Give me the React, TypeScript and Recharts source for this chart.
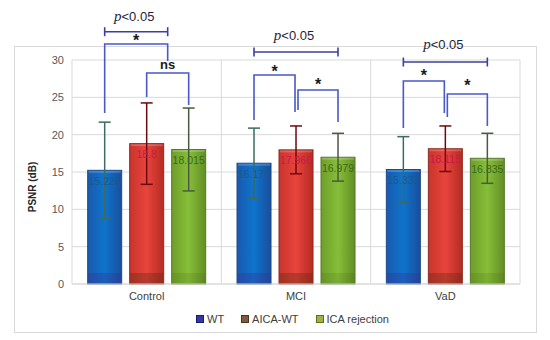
import React from 'react';
import { BarChart, Bar, XAxis, YAxis, CartesianGrid, ErrorBar, LabelList, Legend } from 'recharts';

const categories = ['Control', 'MCI', 'VaD'];
const seriesNames = ['WT', 'AICA-WT', 'ICA rejection'];
const wtValues = [15.226, 16.176, 15.333];
const aicaValues = [18.8, 17.966, 18.115];
const icaValues = [18.015, 16.979, 16.835];
const wtErrors = [6.45, 4.7, 4.4];
const aicaErrors = [5.45, 3.2, 3.05];
const icaErrors = [5.55, 3.2, 3.35];
const yTicks = [0, 5, 10, 15, 20, 25, 30];

// p<0.05 range lines per category (bar index 0=WT, 1=AICA-WT, 2=ICA rejection)
const rangeFrom = [0, 0, 0];
const rangeTo = [1.5, 2, 2];
const rangeLevel = [33.79, 31.07, 29.73];
const rangeLabelLevel = [35.9, 33.35, 32.14];
const rangeLabelText = ['<0.05', '<0.05', '<0.05'];

// significance brackets
const bracketCat = [0, 0, 1, 1, 2, 2];
const bracketFrom = [0, 1, 0, 1, 0, 1];
const bracketTo = [1.5, 2, 1, 2, 1, 2];
const bracketTop = [32.14, 28.26, 27.99, 25.98, 27.19, 25.45];
const bracketLeftEnd = [22.9, 25.04, 21.96, 23.3, 20.89, 22.37];
const bracketRightEnd = [29.87, 23.97, 23.04, 21.7, 22.9, 21.16];
const bracketText = ['*', 'ns', '*', '*', '*', '*'];
const bracketTextLevel = [33.08, 29.2, 28.84, 27.15, 28.3, 26.96];

const FONT = '"Liberation Sans", Arial, sans-serif';
const BAR_GAP = 8;

const data = categories.map((c, i) => ({
  category: c,
  wt: wtValues[i],
  aica: aicaValues[i],
  ica: icaValues[i],
  wtErr: wtErrors[i],
  aicaErr: aicaErrors[i],
  icaErr: icaErrors[i],
}));

const palette: Record<string, any> = {
  wt: { stops: ['#1A5AAE', '#0E74CC', '#1A4E9C'], stroke: '#1C4A8A', bottom: '#3A2A90', bottomOpacity: 0.3, label: '#1B5A86', err: '#3B6B62', legend: '#3535A5', legendStroke: '#1A1A70' },
  aica: { stops: ['#C8352C', '#E8443C', '#B52B23'], stroke: '#8E2A22', bottom: '#5A2A10', bottomOpacity: 0.35, label: '#C8194A', err: '#6A0A10', legend: '#7E5C3C', legendStroke: '#4A3420' },
  ica: { stops: ['#6E9E2A', '#86BE38', '#638E25'], stroke: '#56782A', bottom: '#3A5A10', bottomOpacity: 0.15, label: '#3A6A1A', err: '#4A5A40', legend: '#9DB443', legendStroke: '#5E7020' },
};

function renderAnnotations(props: any) {
  const { x, y, width, height, index } = props;
  const base = y + height;
  const ppu = height / aicaValues[index];
  const toY = (v: number) => base - v * ppu;
  const step = width + BAR_GAP;
  const cx = (k: number) => x + width / 2 + (k - 1) * step;
  const items: any[] = [];
  const rx1 = cx(rangeFrom[index]);
  const rx2 = cx(rangeTo[index]);
  const ry = toY(rangeLevel[index]);
  items.push(
    <g key="range">
      <line x1={rx1} y1={ry} x2={rx2} y2={ry} stroke="#3B3F9E" strokeWidth={1.6} />
      <line x1={rx1} y1={ry - 4.5} x2={rx1} y2={ry + 4.5} stroke="#3B3F9E" strokeWidth={1.6} />
      <line x1={rx2} y1={ry - 4.5} x2={rx2} y2={ry + 4.5} stroke="#3B3F9E" strokeWidth={1.6} />
      <text x={(rx1 + rx2) / 2 - 2} y={toY(rangeLabelLevel[index]) + 4.7} textAnchor="middle" fill="#1F1F3A">
        <tspan fontFamily='"Liberation Serif", "DejaVu Serif", serif' fontStyle="italic" fontSize={15}>p</tspan>
        <tspan fontFamily={FONT} fontSize={13}>{rangeLabelText[index]}</tspan>
      </text>
    </g>
  );
  bracketCat.forEach((c, b) => {
    if (c !== index) return;
    const nudgeL = bracketFrom[b] === 1 && bracketCat.some((cc, bb) => cc === c && bracketTo[bb] === 1) ? 2 : 0;
    const nudgeR = bracketTo[b] === 1 ? -1 : 0;
    const x1 = cx(bracketFrom[b]) + nudgeL;
    const x2 = cx(bracketTo[b]) + nudgeR;
    const yt = toY(bracketTop[b]);
    const isStar = bracketText[b] === '*';
    const fs = isStar ? 16 : 13;
    const ty = toY(bracketTextLevel[b]) + (isStar ? 0.55 * fs : 0.27 * fs);
    items.push(
      <g key={`br${b}`}>
        <path
          d={`M${x1},${toY(bracketLeftEnd[b])} V${yt} H${x2} V${toY(bracketRightEnd[b])}`}
          fill="none"
          stroke="#4A58C8"
          strokeWidth={1.6}
        />
        <text x={(x1 + x2) / 2} y={ty} textAnchor="middle" fontFamily={FONT} fontWeight="bold" fontSize={fs} fill="#1A1A1A">
          {bracketText[b]}
        </text>
      </g>
    );
  });
  return <g>{items}</g>;
}

function makeBarShape(key: string) {
  return (props: any) => {
    const { x, y, width, height } = props;
    if (width == null || height == null) return null;
    const pal = palette[key];
    const gid = `grad-${key}`;
    const band = Math.min(11, height);
    return (
      <g>
        <defs>
          <linearGradient id={gid} x1="0" y1="0" x2="1" y2="0">
            <stop offset="0%" stopColor={pal.stops[0]} />
            <stop offset="50%" stopColor={pal.stops[1]} />
            <stop offset="100%" stopColor={pal.stops[2]} />
          </linearGradient>
        </defs>
        <rect x={x} y={y} width={width} height={height} fill={`url(#${gid})`} stroke={pal.stroke} strokeWidth={1} />
        <rect x={x + 0.5} y={y + height - band} width={width - 1} height={band - 0.5} fill={pal.bottom} fillOpacity={pal.bottomOpacity} />
        <rect x={x + 1} y={y + 0.5} width={width - 2} height={2} fill="#ffffff" fillOpacity={0.2} />
        {key === 'aica' ? renderAnnotations(props) : null}
      </g>
    );
  };
}

const renderLegend = () => (
  <div style={{ display: 'flex', gap: 17, fontFamily: FONT, fontSize: 11, color: '#404040', whiteSpace: 'nowrap', lineHeight: '14px' }}>
    {['wt', 'aica', 'ica'].map((k, i) => (
      <div key={k} style={{ display: 'flex', alignItems: 'center', gap: 3 }}>
        <span style={{ display: 'inline-block', width: 6, height: 6, background: palette[k].legend, border: `1px solid ${palette[k].legendStroke}` }} />
        <span>{seriesNames[i]}</span>
      </div>
    ))}
  </div>
);

const renderYLabel = (props: any) => {
  const vb = props.viewBox || { x: 0, y: 60, width: 72, height: 224 };
  const cx = vb.x + 32;
  const cy = vb.y + vb.height / 2 + 15;
  return (
    <text x={cx} y={cy} transform={`rotate(-90, ${cx}, ${cy})`} textAnchor="middle" dominantBaseline="central" fontFamily={FONT} fontWeight="bold" fontSize={10} fill="#262626">
      PSNR (dB)
    </text>
  );
};

export default function App() {
  return (
    <div style={{ position: 'absolute', left: 0, top: 0, width: 550, height: 340, background: '#ffffff' }}>
      <div style={{ position: 'absolute', left: 14, top: 46, width: 521, height: 285, border: '1px solid #D9D9D9' }} />
      <BarChart
        width={550}
        height={340}
        data={data}
        margin={{ top: 60, right: 30, left: 0, bottom: 26 }}
        barGap={BAR_GAP}
        barCategoryGap="10.5%"
      >
        <CartesianGrid
          stroke="#D9D9D9"
          verticalCoordinatesGenerator={(p: any) => {
            const off = p.offset;
            return [0, 1, 2, 3].map((i) => off.left + (i * off.width) / categories.length);
          }}
        />
        <XAxis
          dataKey="category"
          height={30}
          tickLine={false}
          axisLine={{ stroke: '#D9D9D9' }}
          tick={{ fontFamily: FONT, fontSize: 11, fill: '#404040' }}
        />
        <YAxis
          width={72}
          domain={[0, 30]}
          ticks={yTicks}
          tickLine={false}
          axisLine={false}
          tick={{ fontFamily: FONT, fontSize: 11, fill: '#595959' }}
          label={renderYLabel}
        />
        <Legend verticalAlign="middle" layout="horizontal" wrapperStyle={{ left: 196, top: 312, width: 220 }} content={renderLegend} />
        <Bar dataKey="wt" name={seriesNames[0]} isAnimationActive={false} shape={makeBarShape('wt')}>
          <LabelList dataKey="wt" position="insideTop" offset={7} style={{ fontFamily: FONT, fontSize: 10.5 }} fill={palette.wt.label} />
          <ErrorBar dataKey="wtErr" width={6} stroke={palette.wt.err} strokeWidth={1.5} />
        </Bar>
        <Bar dataKey="aica" name={seriesNames[1]} isAnimationActive={false} shape={makeBarShape('aica')}>
          <LabelList dataKey="aica" position="insideTop" offset={7} style={{ fontFamily: FONT, fontSize: 10.5 }} fill={palette.aica.label} />
          <ErrorBar dataKey="aicaErr" width={6} stroke={palette.aica.err} strokeWidth={1.5} />
        </Bar>
        <Bar dataKey="ica" name={seriesNames[2]} isAnimationActive={false} shape={makeBarShape('ica')}>
          <LabelList dataKey="ica" position="insideTop" offset={7} style={{ fontFamily: FONT, fontSize: 10.5 }} fill={palette.ica.label} />
          <ErrorBar dataKey="icaErr" width={6} stroke={palette.ica.err} strokeWidth={1.5} />
        </Bar>
      </BarChart>
    </div>
  );
}
